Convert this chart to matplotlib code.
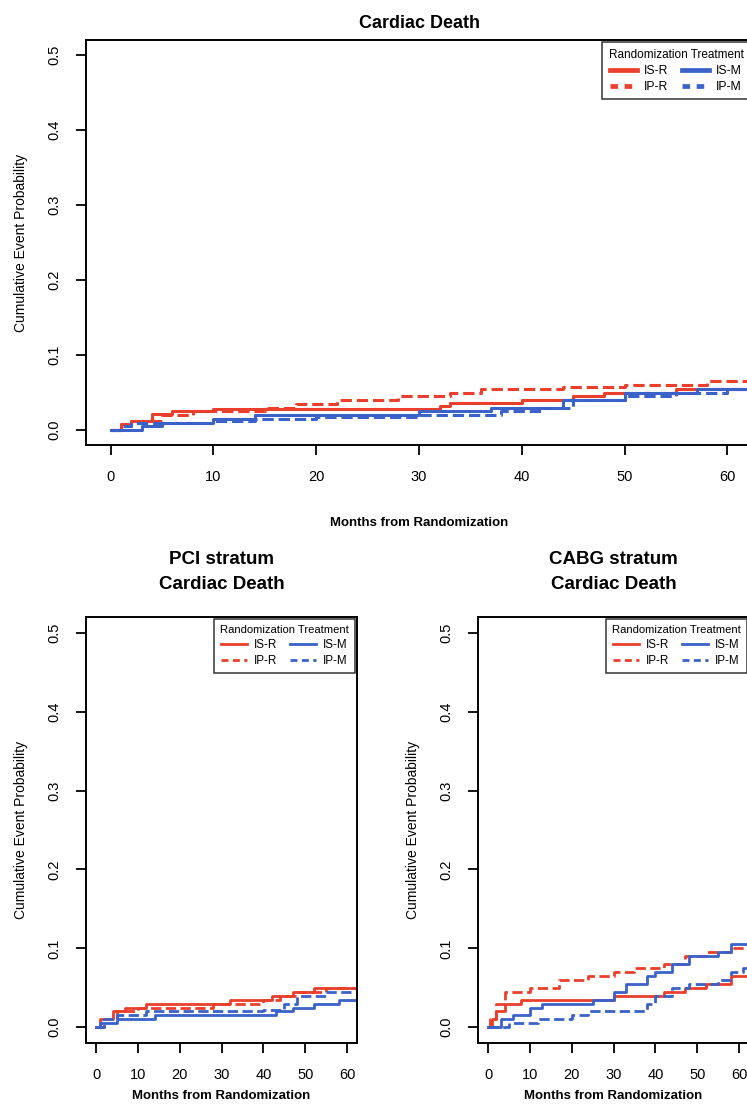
import matplotlib
matplotlib.use("Agg")
import matplotlib.pyplot as plt

plt.rcParams["font.family"] = ["Liberation Sans", "DejaVu Sans"]

RED = "#EA3F2C"
BLUE = "#3A62C8"

GROUPS = ["IS-R", "IP-R", "IS-M", "IP-M"]
COLORS = [RED, RED, BLUE, BLUE]
STYLES = ["-", "--", "-", "--"]

# all patients: step times (months) and cumulative probabilities
all_isr_t = [0, 1, 2, 4, 6, 10, 32, 33, 40, 45, 48, 55, 62.4]
all_isr_v = [0, 0.008, 0.012, 0.022, 0.025, 0.028, 0.032, 0.036, 0.040, 0.045, 0.050, 0.055, 0.055]
all_ipr_t = [0, 1, 2, 5, 8, 15, 18, 22, 28, 33, 36, 44, 50, 58, 62.4]
all_ipr_v = [0, 0.006, 0.012, 0.020, 0.025, 0.030, 0.035, 0.040, 0.045, 0.050, 0.055, 0.058, 0.060, 0.065, 0.065]
all_ism_t = [0, 3, 5, 10, 14, 30, 37, 44, 50, 57, 62.4]
all_ism_v = [0, 0.005, 0.010, 0.015, 0.020, 0.025, 0.030, 0.040, 0.050, 0.055, 0.058]
all_ipm_t = [0, 1, 2, 10, 14, 20, 30, 38, 42, 45, 50, 55, 60, 62.4]
all_ipm_v = [0, 0.005, 0.010, 0.012, 0.015, 0.018, 0.020, 0.025, 0.030, 0.040, 0.045, 0.050, 0.055, 0.055]

# PCI stratum
pci_isr_t = [0, 1, 4, 7, 12, 32, 42, 47, 52, 62.4]
pci_isr_v = [0, 0.010, 0.020, 0.025, 0.030, 0.035, 0.040, 0.045, 0.050, 0.050]
pci_ipr_t = [0, 2, 5, 10, 28, 40, 44, 48, 55, 62.4]
pci_ipr_v = [0, 0.010, 0.020, 0.025, 0.030, 0.035, 0.040, 0.045, 0.050, 0.050]
pci_ism_t = [0, 1, 5, 14, 43, 47, 52, 58, 62.4]
pci_ism_v = [0, 0.005, 0.010, 0.015, 0.020, 0.025, 0.030, 0.035, 0.038]
pci_ipm_t = [0, 2, 5, 12, 40, 45, 48, 55, 62.4]
pci_ipm_v = [0, 0.010, 0.015, 0.020, 0.022, 0.030, 0.040, 0.045, 0.045]

# CABG stratum
cabg_isr_t = [0, 1, 2, 4, 8, 30, 42, 47, 52, 58, 62.4]
cabg_isr_v = [0, 0.010, 0.020, 0.030, 0.035, 0.040, 0.045, 0.050, 0.055, 0.065, 0.065]
cabg_ipr_t = [0, 0.5, 2, 4, 10, 17, 24, 30, 35, 42, 47, 52, 58, 62.4]
cabg_ipr_v = [0, 0.010, 0.030, 0.045, 0.050, 0.060, 0.065, 0.070, 0.075, 0.080, 0.090, 0.095, 0.100, 0.100]
cabg_ism_t = [0, 3, 6, 10, 13, 25, 30, 33, 38, 40, 44, 48, 55, 58, 62.4]
cabg_ism_v = [0, 0.010, 0.015, 0.025, 0.030, 0.035, 0.045, 0.055, 0.065, 0.070, 0.080, 0.090, 0.095, 0.105, 0.105]
cabg_ipm_t = [0, 5, 12, 20, 24, 38, 40, 44, 48, 55, 58, 61, 62.4]
cabg_ipm_v = [0, 0.005, 0.010, 0.015, 0.020, 0.030, 0.040, 0.050, 0.055, 0.060, 0.070, 0.075, 0.075]

Y_TICKS = [0.0, 0.1, 0.2, 0.3, 0.4, 0.5]
X_TICKS = [0, 10, 20, 30, 40, 50, 60]

W, H = 747, 1104


def px_axes(fig, left, right, top, bottom):
    """Add axes given pixel edges measured from the top-left corner."""
    return fig.add_axes([left / W, 1 - bottom / H, (right - left) / W, (bottom - top) / H])


def km_panel(ax, curves, lw, leg_lw, leg_size, leg_dash):
    for (t, v), name, c, ls in zip(curves, GROUPS, COLORS, STYLES):
        ax.step(t, v, where="post", color=c, linestyle=ls, linewidth=lw, label=name)
    ax.set_xlim(-2.4, 62.4)
    ax.set_ylim(-0.02, 0.52)
    ax.set_xticks(X_TICKS)
    ax.set_yticks(Y_TICKS)
    ax.set_yticklabels([f"{y:.1f}" for y in Y_TICKS], rotation=90, va="center")
    ax.tick_params(direction="out", length=7, width=1.3, labelsize=10.5, pad=11)
    for s in ax.spines.values():
        s.set_linewidth(1.4)
    ax.set_ylabel("Cumulative Event Probability", fontsize=10, labelpad=14)
    leg = ax.legend(loc="upper right", ncol=2, title="Randomization Treatment",
                    fontsize=leg_size, title_fontsize=leg_size - 0.3, frameon=True,
                    fancybox=False, edgecolor="black", borderaxespad=0.2,
                    handlelength=2.2, columnspacing=1.1, handletextpad=0.6,
                    labelspacing=0.35, borderpad=0.5)
    leg.get_frame().set_linewidth(1.1)
    for h in leg.get_lines():
        h.set_linewidth(leg_lw)
        if h.get_linestyle() == "--":
            h.set_dashes(leg_dash)


fig = plt.figure(figsize=(W / 100, H / 100), dpi=100)

ax_all = px_axes(fig, 86, 752, 40, 445)
km_panel(ax_all, [(all_isr_t, all_isr_v), (all_ipr_t, all_ipr_v),
                  (all_ism_t, all_ism_v), (all_ipm_t, all_ipm_v)],
         lw=2.2, leg_lw=3.4, leg_size=8.8, leg_dash=(1.6, 1.4))
ax_all.set_title("Cardiac Death", fontsize=13, fontweight="bold", pad=9)
ax_all.set_xlabel("Months from Randomization", fontsize=9.5, fontweight="bold", labelpad=24)

ax_pci = px_axes(fig, 86, 357, 617, 1043)
km_panel(ax_pci, [(pci_isr_t, pci_isr_v), (pci_ipr_t, pci_ipr_v),
                  (pci_ism_t, pci_ism_v), (pci_ipm_t, pci_ipm_v)],
         lw=2.0, leg_lw=2.0, leg_size=8.4, leg_dash=(2.5, 1.6))
ax_pci.set_title("PCI stratum\nCardiac Death", fontsize=13.5, fontweight="bold",
                 pad=20, linespacing=1.6)
ax_pci.set_xlabel("Months from Randomization", fontsize=9.5, fontweight="bold", labelpad=6)

ax_cabg = px_axes(fig, 478, 749, 617, 1043)
km_panel(ax_cabg, [(cabg_isr_t, cabg_isr_v), (cabg_ipr_t, cabg_ipr_v),
                   (cabg_ism_t, cabg_ism_v), (cabg_ipm_t, cabg_ipm_v)],
         lw=2.0, leg_lw=2.0, leg_size=8.4, leg_dash=(2.5, 1.6))
ax_cabg.set_title("CABG stratum\nCardiac Death", fontsize=13.5, fontweight="bold",
                  pad=20, linespacing=1.6)
ax_cabg.set_xlabel("Months from Randomization", fontsize=9.5, fontweight="bold", labelpad=6)

fig.savefig("out.png", dpi=100)
